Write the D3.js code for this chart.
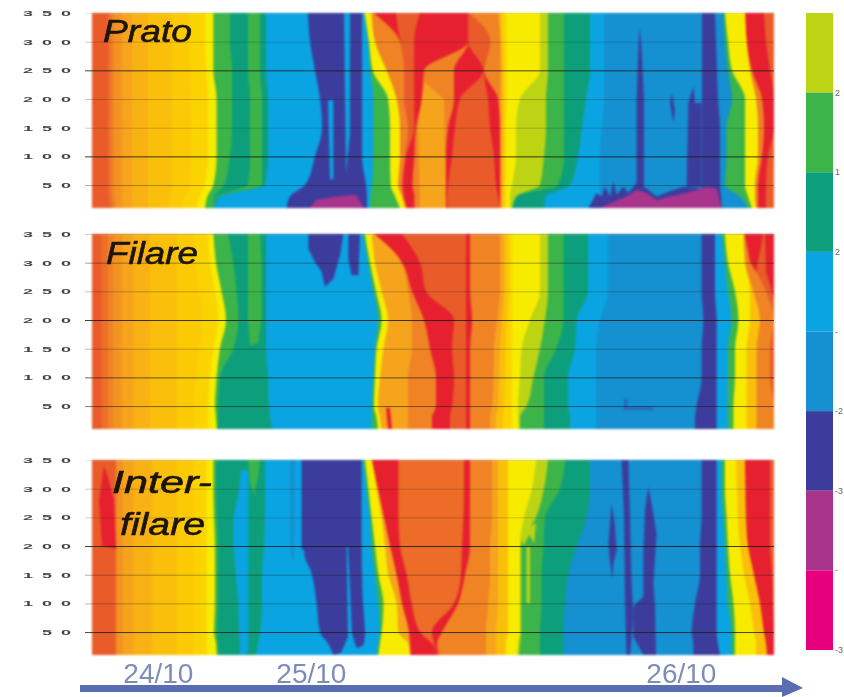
<!DOCTYPE html>
<html>
<head>
<meta charset="utf-8">
<script src="https://cdn.jsdelivr.net/npm/d3@7"></script>
<style>
html, body { margin: 0; padding: 0; background: #fff; }
svg { display: block; }
</style>
</head>
<body>
<svg id="chart" width="844" height="697"></svg>
<script>
// level colours, coldest first; first eight are the ones in the colour bar
const levelColors = ["#e6007e", "#a8348c", "#3c3c9c", "#1590d0", "#0aa4e2", "#0d9f7c", "#3cb44a", "#bcd414",
    "#f7ec00", "#fbd400", "#fabf0a", "#f6a41c", "#f08324", "#e95c2a", "#e6202e"];

const heights = [350, 300, 250, 200, 150, 100, 50, 30, 10];
const heightTicks = [350, 300, 250, 200, 150, 100, 50];
const dayLabels = ["24/10", "25/10", "26/10"];
const dayCentres = [33.2, 109.7, 294.7];
const legendLevels = [7, 6, 5, 4, 3, 2, 1, 0];
const legendLabels = ["2", "1", "2", "-", "-2", "-3", "-", "-3"];

// each strip: level and its right edge (sample index) at every height in `heights`
const pratoLevels = [13, 12.5, 12, 11.5, 11, 10.5, 10, 9.5, 9, 8, 6, 5, 6, 5, 4, 2, 4, 6, 8, 12, 13, 14, 13, 14, 12, 14, 13, 14, 12, 11, 10, 9, 8, 7, 6, 5, 4, 3, 2, 3, 6, 8, 12, 14, 13];
const pratoEdges = [
    [8, 8, 8, 8, 8, 8, 8, 8.5, 9],
    [9.5, 9.5, 9.5, 9.5, 9.5, 9.5, 9.5, 10, 10.5],
    [11, 11, 11, 11, 11, 11, 11, 11.5, 12],
    [15, 15, 15, 15, 15, 15, 15, 15, 15],
    [20, 20, 20, 20, 20, 20, 20, 20, 20],
    [28, 28, 28, 28, 28, 28, 28, 28, 28],
    [40, 40, 40, 40, 40, 40, 40, 39, 38],
    [49, 49, 49, 50, 50, 50, 49, 47, 45],
    [56.5, 56.5, 57.3, 58, 58, 58, 56.5, 54, 52.3],
    [60.7, 60.7, 60.7, 62.3, 62.3, 62.3, 60.7, 57.7, 56.5],
    [69, 69, 70, 70, 70, 69, 66, 61, 60.7],
    [78, 78, 78, 79, 79, 79, 78, 62, 60.8],
    [84, 84, 84, 85, 85, 85, 85, 63, 60.9],
    [87, 87, 87, 88, 88, 88, 86.5, 64, 61],
    [108, 109, 111.5, 114, 115, 111.5, 106.5, 99, 97.3],
    [135, 135, 135, 135, 135, 135, 137, 137.5, 137.5],
    [136, 138, 139, 140.7, 140.7, 140.7, 140, 139.3, 139],
    [136.3, 138.5, 140.3, 148, 149, 149, 149.3, 151.5, 154],
    [139.8, 141.5, 147.3, 152.3, 154, 154, 153, 155, 156.5],
    [140.7, 154, 156, 156, 158, 156.5, 155, 155.7, 157.3],
    [141, 154.5, 161, 161, 161, 157, 155.5, 156, 157.5],
    [152, 154.6, 161.1, 161.1, 161.1, 161, 160, 161, 161],
    [164, 161, 161.2, 161.2, 161.2, 161.1, 160.1, 161.1, 161.1],
    [188, 188, 166, 165, 162, 161.2, 160.2, 161.2, 161.2],
    [188.1, 188.1, 181, 181, 178, 177, 177, 176.5, 176.5],
    [188.2, 188.2, 195.7, 184, 181.5, 180, 178, 177.5, 177.5],
    [188.3, 199, 195.8, 198, 199, 201, 202, 203, 204],
    [188.4, 199.1, 196, 203, 204, 204, 204, 204, 204],
    [203, 204, 204, 204, 204, 204.3, 204.5, 204.5, 204.5],
    [204, 204.5, 205, 205, 205, 205, 205, 205, 205],
    [205, 205.5, 206, 206, 206, 206, 206, 206, 206],
    [207, 207.5, 207.5, 207.5, 207, 207, 207, 207, 207],
    [224, 224, 224, 214, 212, 212, 210, 209, 209],
    [228, 228, 228, 227, 227, 226, 224, 212, 210],
    [236, 236, 236, 236, 236, 236, 233, 212.5, 210.5],
    [249, 249, 249, 247, 245, 243, 239, 227, 226],
    [256, 256, 256, 256, 255, 254, 254, 254, 254],
    [305, 305, 305, 305, 305, 305, 305, 305, 305],
    [311.5, 312, 312.5, 313, 314, 314, 314, 314.5, 315],
    [315.7, 316.5, 318, 320, 317.3, 317.3, 316.5, 324, 328],
    [316.5, 318, 320, 326.5, 326.5, 326.5, 326.5, 328, 330],
    [326.5, 327.3, 329, 332, 333, 333, 331.5, 331.5, 332],
    [326.6, 327.4, 330, 335, 336, 335, 333, 333, 333],
    [336, 337, 339, 341, 341, 338, 337, 337, 337],
    [341, 341, 341, 341, 341, 341, 341, 341, 341]
];
// patches: level and outline as [sample, height]
const pratoPatches = [
    [11, [[166, 230], [176, 200], [177, 10], [164, 10], [163, 150]]],
    [4, [[126, 350], [129, 350], [129, 140], [127, 71]]],
    [4, [[118, 198], [120.7, 198], [120.7, 60], [119, 60]]],
    [1, [[109, 10], [112, 24], [122, 30], [132, 33], [136, 10]]],
    [2, [[273.7, 326], [274.8, 285.5], [276, 198], [276, 47], [272.3, 47], [272.3, 198], [273.2, 285.5]]],
    [2, [[289.8, 210], [291.5, 181], [290.7, 158], [289, 192]]],
    [2, [[300.7, 222], [301.5, 193], [304.8, 193], [304.8, 47], [297.3, 47], [298.2, 193]]],
    [2, [[248.2, 10], [252.3, 36], [254.8, 30], [256.5, 47], [259, 30], [260.7, 56], [262.3, 33], [265.7, 47], [268.2, 36], [272.3, 53], [277.3, 44], [282.3, 30], [289, 39], [295.7, 47], [304.8, 44], [305.7, 10]]],
    [1, [[254, 10], [259, 18], [267.3, 30], [272.3, 42], [277.3, 36], [282.3, 24], [289, 30], [297.3, 36], [307.3, 47], [312.3, 44], [314.8, 10]]]
];

const filareLevels = [13, 12.5, 12, 11.5, 11, 10.5, 10, 9.5, 9, 8, 6, 5, 4, 6, 8, 11, 12, 14, 13, 14, 12, 11, 10, 9, 8, 7, 6, 5, 4, 3, 2, 4, 6, 8, 10, 12, 13];
const filareEdges = [
    [4.8, 4.8, 4.8, 4.8, 4.8, 4.8, 4.8, 4.8, 4.8],
    [8, 8, 8, 8, 8, 8, 8, 8, 8],
    [10.7, 10.7, 10.7, 10.7, 10.7, 10.7, 10.7, 10.7, 10.7],
    [15, 15, 15, 15, 15, 15, 15, 15, 15],
    [20.7, 20.7, 20.7, 20.7, 20.7, 20.7, 20.7, 20.7, 20.7],
    [29, 29, 29, 29, 29, 29, 29, 29, 29],
    [42.3, 42.3, 42.3, 42.3, 42.3, 42.3, 42.3, 42.3, 42.3],
    [51, 52, 54, 55, 54, 52, 51, 51, 51],
    [58.2, 59, 61.5, 63.2, 60.7, 59, 58.2, 58.2, 58.2],
    [60.7, 62, 64.8, 67, 64, 62.3, 61.5, 62, 62.3],
    [68, 70.7, 72.3, 73.2, 70.7, 64, 63, 63, 63],
    [87, 87, 87, 87, 87, 88, 88.5, 89, 90],
    [135.7, 138, 140.7, 143, 141.5, 140.7, 140, 140, 140],
    [136.5, 139, 142, 144.8, 142.3, 141.5, 141, 142.3, 143],
    [139.8, 141.5, 144.8, 148, 145.7, 144, 143, 144, 144.8],
    [141, 154.8, 158, 160, 160, 158, 158, 158, 158],
    [141.1, 155, 160, 166, 169, 172, 172, 170, 170],
    [155, 164, 167, 181, 180, 181, 180, 179, 179],
    [187, 187, 187, 187, 187, 187, 187, 187, 187],
    [189, 189, 189, 190, 189, 189, 189, 189, 189],
    [204, 204, 204, 202.5, 201, 200.7, 200, 199, 199],
    [206, 206, 206, 205, 204, 203.5, 203, 202, 202],
    [208, 208, 208, 207.5, 207, 206.5, 206, 205.5, 205.5],
    [210, 210, 210, 210, 210, 210, 210, 210, 210],
    [224, 224, 224, 219, 214.8, 214, 213, 213.2, 213.3],
    [228, 228, 228, 226.5, 224, 220.7, 217.3, 214, 214],
    [235.7, 235.7, 235.7, 235.7, 232, 226, 226, 226, 226],
    [248, 248, 248, 242.3, 241.5, 238, 238, 239, 239],
    [258, 258, 258, 254, 252, 252, 252, 252, 252],
    [304.8, 304.8, 304.8, 305.7, 304.8, 304.8, 302.3, 301.5, 301.5],
    [311.5, 311.5, 311.5, 312.3, 312.3, 312.3, 312.3, 312.3, 312.3],
    [314.8, 316.5, 318, 319.8, 318, 318, 318, 318, 318],
    [316.5, 318, 321.5, 323.2, 321.5, 321.5, 320.7, 320.7, 320.7],
    [325.7, 326.5, 329, 329, 327.3, 327.3, 327.3, 327.3, 327.3],
    [325.8, 326.6, 330.7, 334, 332.3, 332.3, 332.3, 332.3, 332.3],
    [326, 330, 337, 341, 339, 339, 341, 341, 341],
    [341, 341, 341, 341, 341, 341, 341, 341, 341]
];
const filarePatches = [
    [6, [[78, 350], [84, 350], [84.8, 300], [84.8, 200], [83, 160], [79, 155], [78, 200]]],
    [2, [[108.2, 350], [125.7, 350], [124, 313], [120.7, 272], [116.5, 258], [114.8, 284], [111.5, 301], [108.2, 324]]],
    [2, [[128.2, 350], [134, 350], [133.2, 278], [129.8, 278], [128.2, 307]]],
    [14, [[147, 47], [149, 47], [150, 10], [148, 10]]],
    [14, [[326.5, 350], [335.7, 350], [332, 284], [329, 301]]],
    [14, [[336.5, 350], [341, 350], [341, 237], [337, 284]]],
    [2.5, [[266, 63], [267.7, 63], [267.7, 48], [280.7, 48], [280.7, 43], [266, 43]]]
];

const interLevels = [13, 12.5, 11.5, 11, 10.5, 10, 9.5, 9, 8, 6, 5, 4, 2, 4, 6, 8, 11, 14, 12.6, 14, 12, 11, 10, 8, 7, 6, 5, 3, 2, 4, 6, 8, 10, 14, 13];
const interEdges = [
    [11.5, 11.5, 11.5, 11.5, 11.5, 11.5, 11.5, 11.5, 11.5],
    [12.3, 12.3, 12.3, 12.3, 12.3, 12.3, 12.3, 12.3, 12.3],
    [15.5, 15.5, 15.5, 15.5, 15.5, 15.5, 15.5, 15.5, 15.5],
    [20.7, 20.7, 20.7, 20.7, 20.7, 20.7, 20.7, 20.7, 20.7],
    [30, 30, 30, 30, 30, 30, 30, 30, 30],
    [42.3, 42.3, 42.3, 42.3, 42.3, 42.3, 42.3, 42.3, 42.3],
    [51, 51, 51, 51, 51, 51, 51, 51, 51],
    [57.3, 57.3, 57.3, 57.3, 57.3, 57.3, 57.3, 57.3, 57.3],
    [60.7, 60.7, 61, 61.5, 61.5, 61.5, 61, 62, 62.3],
    [62, 62, 62.5, 63, 63, 63, 62.5, 63, 63.5],
    [86.5, 86.5, 86.5, 86, 85, 85, 84, 83, 82],
    [104.8, 104.8, 104.8, 104.8, 110, 112.3, 114, 118, 120.7],
    [134.8, 134.8, 134.8, 134.8, 135, 135.5, 136.5, 136, 120.8],
    [135.7, 137.3, 139, 139.8, 141.5, 143.2, 144, 143.2, 142.3],
    [136.5, 138.2, 139.8, 141.5, 143.2, 145.7, 144.8, 144, 143.2],
    [139.8, 142.3, 144.8, 146.5, 148.2, 152.3, 153.2, 158, 159],
    [140, 143, 146, 149, 152.3, 155, 158.5, 159, 159.3],
    [153.2, 153.2, 153.2, 154, 157.3, 159.8, 164, 170, 173],
    [186, 186, 185.7, 185, 184.5, 181, 170, 171, 173.5],
    [189, 189, 189, 189, 186.5, 183, 175, 172.5, 173.7],
    [200, 200, 200, 199, 199, 198, 197, 197, 197],
    [203, 203, 203, 203, 203, 203, 202, 202, 202],
    [208, 208, 208, 208, 208, 208, 208, 207, 207],
    [222, 220, 216, 214, 214, 214, 214, 213, 212.7],
    [228, 226, 222, 214.5, 214.5, 214.5, 214.5, 214, 213.5],
    [236.5, 234, 226.5, 225.7, 224.8, 224.8, 224, 224, 224],
    [249, 249, 247.3, 242.3, 238, 236.5, 235.7, 235.7, 235.7],
    [304.8, 304.8, 304.8, 304, 304, 301.5, 299.8, 300.7, 300.7],
    [312.3, 312.3, 312.3, 312.3, 312.3, 312.3, 312.3, 313, 314],
    [314.8, 314.8, 315.7, 316.5, 317.3, 318, 319.8, 319.8, 319.8],
    [316.5, 316.5, 317.3, 318, 319, 320.7, 321.5, 321.5, 321.5],
    [322, 322.5, 323, 324, 326, 329, 331, 332, 332],
    [326.5, 326.7, 327, 328, 331, 334, 336, 337, 337.5],
    [339, 339, 339, 339, 340, 340.5, 341, 341, 341],
    [341, 341, 341, 341, 341, 341, 341, 341, 341]
];
const interPatches = [
    [14, [[5, 200], [3.5, 280], [6, 340], [8, 320], [11, 280], [12, 195]]],
    [4, [[74.5, 332], [78.2, 332], [78.2, 19], [76.5, 10], [74, 10], [73.2, 100], [70.7, 200], [70.7, 250], [73.2, 290]]],
    [6, [[78.2, 350], [84, 350], [83, 320], [81, 290], [79, 310]]],
    [3, [[99, 350], [101.5, 350], [101, 180], [100, 175], [99, 200]]],
    [4, [[105, 193], [106, 193], [108, 135], [107, 135]]],
    [4, [[127.3, 199], [128, 199], [130, 48], [132, 25], [135, 10], [124, 10], [128, 42]]],
    [7, [[217.3, 199], [219, 199], [219, 100], [217.3, 100]]],
    [7, [[214, 220], [222, 240], [221, 205], [218.5, 220], [216, 200]]],
    [2, [[259.8, 274.5], [261.5, 234], [262.3, 193], [260.7, 170], [260.2, 141], [258.7, 182], [258.2, 205], [259.3, 251]]],
    [2, [[264.8, 350], [268.2, 350], [269, 251], [269.8, 135], [270.7, 77], [269, 10], [267.3, 10], [266.5, 106], [266, 251]]],
    [2, [[278.2, 303.5], [279.8, 274.5], [282.3, 222], [280.7, 135], [281.5, 94.5], [282, 10], [275.7, 10], [270.7, 42], [270.7, 94.5], [275.7, 112], [275.7, 193], [276.5, 263]]]
];

const pratoGrid = [0.1, 0.2, 0.8, 0.25, 0.2, 0.85, 0.35];
const filareGrid = [0.2, 0.4, 0.25, 0.85, 0.3, 0.65, 0.55];
const interGrid = [0.1, 0.2, 0.2, 0.85, 0.35, 0.3, 0.8];

const panels = [
    { top: 13, levels: pratoLevels, edges: pratoEdges, patches: pratoPatches, grid: pratoGrid },
    { top: 234, levels: filareLevels, edges: filareEdges, patches: filarePatches, grid: filareGrid },
    { top: 460, levels: interLevels, edges: interEdges, patches: interPatches, grid: interGrid }
];

// fractional levels sit between two neighbouring colours
function levelColor(level) {
    const low = Math.floor(level);
    if (low === level) return levelColors[level];
    return d3.interpolateRgb(levelColors[low], levelColors[low + 1])(level - low);
}

const svg = d3.select("#chart");
const left = 92, right = 774, panelHeight = 195;

const defs = svg.append("defs");
defs.append("filter").attr("id", "soft").attr("color-interpolation-filters", "sRGB")
    .append("feGaussianBlur").attr("stdDeviation", 0.9);
defs.append("filter").attr("id", "softLine").attr("color-interpolation-filters", "sRGB")
    .append("feGaussianBlur").attr("stdDeviation", 0.4);
defs.append("filter").attr("id", "softText").attr("color-interpolation-filters", "sRGB")
    .attr("x", "-20%").attr("width", "140%")
    .append("feGaussianBlur").attr("stdDeviation", 0.7);

const x = d3.scaleLinear().domain([0, 341]).range([left, right]);
const y = d3.scaleLinear().domain([10, 350]).range([panelHeight, 0]);

panels.forEach(panel => {
    const clipId = `clip-${panel.top}`;
    defs.append("clipPath").attr("id", clipId)
        .append("rect").attr("x", left).attr("y", 0).attr("width", right - left).attr("height", panelHeight);

    const g = svg.append("g").attr("transform", `translate(0,${panel.top})`);
    const plot = g.append("g").attr("filter", "url(#soft)").append("g").attr("clip-path", `url(#${clipId})`);

    // later strips first so that each one sits on top of the next
    for (let i = panel.levels.length - 1; i >= 0; i--) {
        const area = d3.area()
            .x0(x(0))
            .x1((d, j) => x(panel.edges[i][j]))
            .y(d => y(d))
            .curve(d3.curveMonotoneY);
        plot.append("path")
            .attr("d", area(heights))
            .attr("fill", levelColor(panel.levels[i]));
    }

    const outline = d3.line().x(d => x(d[0])).y(d => y(d[1]));
    panel.patches.forEach(p => {
        plot.append("path")
            .attr("d", outline(p[1]) + "Z")
            .attr("fill", levelColor(p[0]));
    });

    const axis = g.append("g")
        .attr("transform", `translate(${left},0)`)
        .attr("filter", "url(#softLine)")
        .call(d3.axisLeft(y).tickValues(heightTicks).tickSize(-(right - left)).tickPadding(12));
    axis.select(".domain").remove();
    axis.selectAll(".tick line")
        .attr("x1", -7)
        .attr("stroke", "#1a1a1a")
        .attr("stroke-opacity", (d, i) => panel.grid[i]);
    axis.selectAll(".tick text")
        .attr("font-family", "Liberation Sans")
        .attr("font-size", 8)
        .attr("font-weight", "bold")
        .attr("letter-spacing", 4)
        .attr("fill", "#444")
        .attr("filter", "url(#softText)")
        .attr("textLength", d => String(d).length * 19)
        .attr("lengthAdjust", "spacingAndGlyphs");
});

// panel titles
const titles = [["Prato", 103, 42, 89], ["Filare", 106, 264, 92], ["Inter-", 112, 493, 100], ["filare", 120, 535, 85]];
svg.append("g").selectAll("text").data(titles).join("text")
    .attr("x", d => d[1])
    .attr("y", d => d[2])
    .attr("textLength", d => d[3])
    .attr("lengthAdjust", "spacingAndGlyphs")
    .attr("font-family", "Liberation Sans")
    .attr("font-style", "italic")
    .attr("font-size", 32)
    .attr("fill", "#1c1408")
    .attr("stroke", "#1c1408")
    .attr("stroke-width", 0.6)
    .attr("filter", "url(#softText)")
    .text(d => d[0]);

// day labels
svg.append("g").selectAll("text").data(dayLabels).join("text")
    .attr("x", (d, i) => x(dayCentres[i]))
    .attr("y", 683)
    .attr("text-anchor", "middle")
    .attr("font-family", "Liberation Sans")
    .attr("font-size", 28)
    .attr("fill", "#7c8db8")
    .attr("filter", "url(#softText)")
    .text(d => d);

// time arrow
svg.append("path")
    .attr("d", "M80,685H782V677L803,688L782,697V692H80Z")
    .attr("fill", "#5a6cb2")
    .attr("filter", "url(#softText)");

// colour bar
const legendY = d3.scaleLinear().domain([0, 8]).range([650, 13]);
const legend = svg.append("g");
legend.append("g").attr("filter", "url(#softText)").selectAll("rect").data(legendLevels).join("rect")
    .attr("x", 806)
    .attr("y", d => legendY(d + 1))
    .attr("width", 27)
    .attr("height", d => legendY(d) - legendY(d + 1))
    .attr("fill", d => levelColors[d]);
legend.append("g").selectAll("text").data(legendLabels).join("text")
    .attr("x", 835)
    .attr("y", (d, i) => legendY(legendLevels[i]) + 3)
    .attr("font-family", "Liberation Sans")
    .attr("font-size", 9)
    .attr("fill", "#666")
    .attr("filter", "url(#softText)")
    .text(d => d);
</script>
</body>
</html>
